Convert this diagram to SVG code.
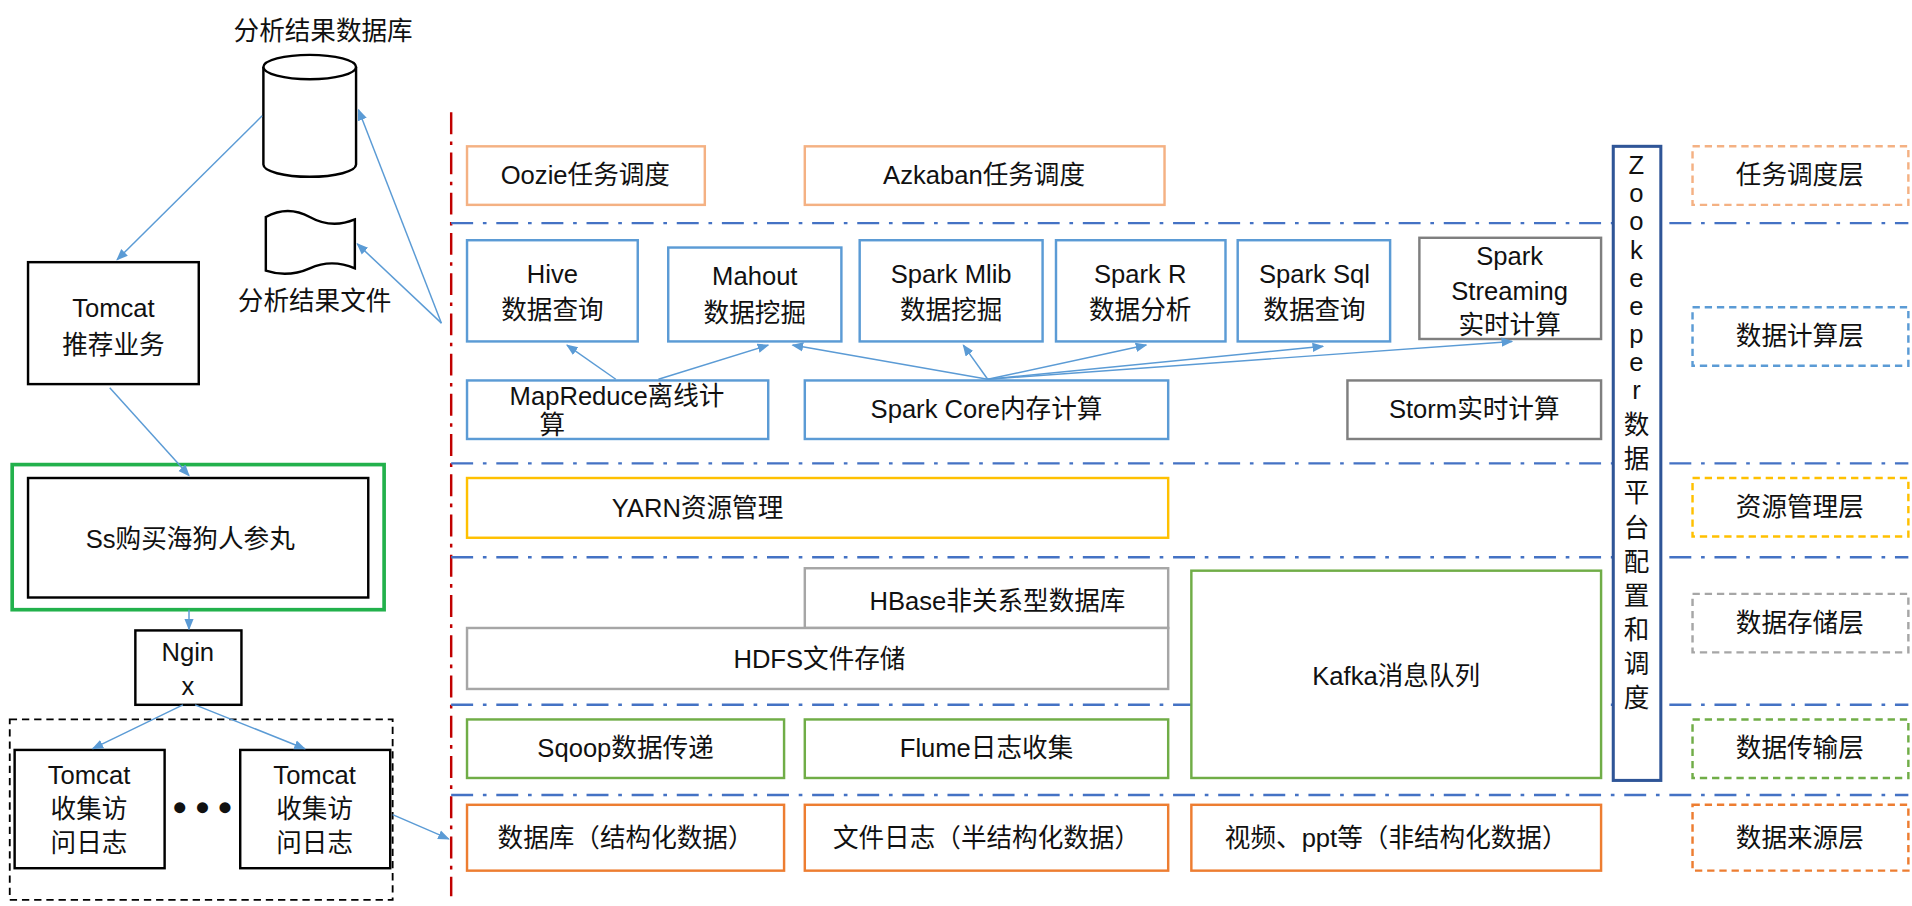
<svg xmlns="http://www.w3.org/2000/svg" width="1912" height="906" viewBox="0 0 1912 906">
<style>
text{font-family:"Liberation Sans","Noto Sans CJK SC",sans-serif;font-size:21px;fill:#111;text-anchor:middle}
.b{fill:#fff;stroke-width:2}
.blk{stroke:#000}.blu{stroke:#5b9bd5}.gry{stroke:#7f7f7f}.lgry{stroke:#a6a6a6}.org{stroke:#ed7d31}.lorg{stroke:#f4b183}.yel{stroke:#ffc000}.grn{stroke:#70ad47}
.d{fill:none;stroke-width:2;stroke-dasharray:6 4}
.sep{stroke:#4472c4;stroke-width:2;stroke-dasharray:18 8 3 8}
.c{stroke:#5b9bd5;stroke-width:1.2;fill:none;marker-end:url(#a)}
</style>
<defs><marker id="a" viewBox="0 0 10 10" refX="9" refY="5" markerWidth="8" markerHeight="8" orient="auto"><path d="M0,1L10,5L0,9z" fill="#5b9bd5"/></marker></defs>
<rect width="1912" height="906" fill="#fff"/>
<g transform="scale(1.2194)">
<g id="seps">
<line x1="370" y1="92" x2="370" y2="735" stroke="#c00000" stroke-width="2" stroke-dasharray="18 6 3 6"/>
<line class="sep" x1="370" y1="183" x2="1565" y2="183"/>
<line class="sep" x1="370" y1="380" x2="1565" y2="380"/>
<line class="sep" x1="370" y1="457" x2="1565" y2="457"/>
<line class="sep" x1="370" y1="578" x2="1565" y2="578"/>
<line class="sep" x1="370" y1="652" x2="1565" y2="652"/>
</g>
<g id="db"><text x="265" y="33">分析结果数据库</text>
<path d="M216,55V135A38,10 0 0 0 292,135V55" class="b blk" stroke-width="1.5"/><ellipse cx="254" cy="55" rx="38" ry="10" class="b blk" stroke-width="1.5"/></g>
<g id="file"><path d="M218,178Q236,168 254,178T291,180V220Q272,212 254,220T218,222Z" class="b blk" stroke-width="1.5"/><text x="258" y="254">分析结果文件</text></g>
<g id="tomcatR"><rect x="23" y="215" width="140" height="100" class="b blk" stroke-width="1.5"/><text x="93" y="260">Tomcat</text><text x="93" y="290">推荐业务</text></g>
<g id="ss"><rect x="10" y="381" width="305" height="119" fill="#fff" stroke="#22b14c" stroke-width="3"/><rect x="23" y="392" width="279" height="98" class="b blk" stroke-width="1.5"/><text x="156" y="449">Ss购买海狗人参丸</text></g>
<g id="nginx"><rect x="111" y="517" width="87" height="61" class="b blk" stroke-width="1.5"/><text x="154" y="542">Ngin</text><text x="154" y="570">x</text></g>
<g id="cluster"><rect x="8" y="590" width="314" height="148" fill="none" stroke="#000" stroke-width="1.5" stroke-dasharray="6 4"/>
<rect x="12" y="615" width="123" height="97" class="b blk" stroke-width="1.5"/><text x="73" y="643">Tomcat</text><text x="73" y="671">收集访</text><text x="73" y="699">问日志</text>
<text x="166" y="668" font-size="26">● ● ●</text>
<rect x="197" y="615" width="123" height="97" class="b blk" stroke-width="1.5"/><text x="258" y="643">Tomcat</text><text x="258" y="671">收集访</text><text x="258" y="699">问日志</text></g>
<g id="n-oozie"><rect x="383" y="120" width="195" height="48" class="b lorg"/><text x="480" y="151">Oozie任务调度</text></g>
<g id="n-azk"><rect x="660" y="120" width="295" height="48" class="b lorg"/><text x="807" y="151">Azkaban任务调度</text></g>
<g id="n-hive"><rect x="383" y="197" width="140" height="83" class="b blu"/><text x="453" y="232">Hive</text><text x="453" y="262">数据查询</text></g>
<g id="n-mahout"><rect x="548" y="203" width="142" height="77" class="b blu"/><text x="619" y="234">Mahout</text><text x="619" y="264">数据挖掘</text></g>
<g id="n-mlib"><rect x="705" y="197" width="150" height="83" class="b blu"/><text x="780" y="232">Spark Mlib</text><text x="780" y="262">数据挖掘</text></g>
<g id="n-r"><rect x="866" y="197" width="139" height="83" class="b blu"/><text x="935" y="232">Spark R</text><text x="935" y="262">数据分析</text></g>
<g id="n-sql"><rect x="1015" y="197" width="125" height="83" class="b blu"/><text x="1078" y="232">Spark Sql</text><text x="1078" y="262">数据查询</text></g>
<g id="n-stream"><rect x="1164" y="195" width="149" height="83" class="b gry"/><text x="1238" y="217">Spark</text><text x="1238" y="246">Streaming</text><text x="1238" y="274">实时计算</text></g>
<g id="n-mr"><rect x="383" y="312" width="247" height="48" class="b blu"/><text x="506" y="332">MapReduce离线计</text><text x="453" y="356">算</text></g>
<g id="n-core"><rect x="660" y="312" width="298" height="48" class="b blu"/><text x="809" y="343">Spark Core内存计算</text></g>
<g id="n-storm"><rect x="1105" y="312" width="208" height="48" class="b gry"/><text x="1209" y="343">Storm实时计算</text></g>
<g id="n-yarn"><rect x="383" y="392" width="575" height="49" class="b yel"/><text x="572" y="424">YARN资源管理</text></g>
<g id="n-hbase"><rect x="660" y="466" width="298" height="49" class="b lgry"/><text x="818" y="500">HBase非关系型数据库</text></g>
<g id="n-hdfs"><rect x="383" y="515" width="575" height="50" class="b lgry"/><text x="672" y="548">HDFS文件存储</text></g>
<g id="n-kafka"><rect x="977" y="468" width="336" height="170" class="b grn"/><text x="1145" y="562">Kafka消息队列</text></g>
<g id="n-sqoop"><rect x="383" y="590" width="260" height="48" class="b grn"/><text x="513" y="621">Sqoop数据传递</text></g>
<g id="n-flume"><rect x="660" y="590" width="298" height="48" class="b grn"/><text x="809" y="621">Flume日志收集</text></g>
<g id="n-src1"><rect x="383" y="660" width="260" height="54" class="b org"/><text x="513" y="695">数据库（结构化数据）</text></g>
<g id="n-src2"><rect x="660" y="660" width="298" height="54" class="b org"/><text x="809" y="695">文件日志（半结构化数据）</text></g>
<g id="n-src3"><rect x="977" y="660" width="336" height="54" class="b org"/><text x="1145" y="695">视频、ppt等（非结构化数据）</text></g>
<g id="zk"><rect x="1323" y="120" width="39" height="520" fill="#fff" stroke="#2f5597" stroke-width="2.5"/>
<text x="1342" y="143">Z</text><text x="1342" y="166">o</text><text x="1342" y="189">o</text><text x="1342" y="212">k</text><text x="1342" y="235">e</text><text x="1342" y="258">e</text><text x="1342" y="281">p</text><text x="1342" y="304">e</text><text x="1342" y="327">r</text>
<text x="1342" y="356">数</text><text x="1342" y="384">据</text><text x="1342" y="412">平</text><text x="1342" y="440">台</text><text x="1342" y="468">配</text><text x="1342" y="496">置</text><text x="1342" y="524">和</text><text x="1342" y="552">调</text><text x="1342" y="580">度</text></g>
<g id="layers">
<rect x="1388" y="120" width="177" height="48" class="d lorg"/><text x="1476" y="151">任务调度层</text>
<rect x="1388" y="252" width="177" height="48" class="d blu"/><text x="1476" y="283">数据计算层</text>
<rect x="1388" y="392" width="177" height="48" class="d yel"/><text x="1476" y="423">资源管理层</text>
<rect x="1388" y="487" width="177" height="48" class="d lgry"/><text x="1476" y="518">数据存储层</text>
<rect x="1388" y="590" width="177" height="48" class="d grn"/><text x="1476" y="621">数据传输层</text>
<rect x="1388" y="660" width="177" height="54" class="d org"/><text x="1476" y="695">数据来源层</text>
</g>
<g id="connectors">
<line class="c" x1="215" y1="95" x2="96" y2="213"/>
<line class="c" x1="362" y1="265" x2="294" y2="90"/>
<line class="c" x1="362" y1="265" x2="293" y2="200"/>
<line class="c" x1="90" y1="318" x2="155" y2="390"/>
<line class="c" x1="155" y1="500" x2="155" y2="516"/>
<line class="c" x1="150" y1="578" x2="76" y2="614"/>
<line class="c" x1="160" y1="578" x2="250" y2="614"/>
<line class="c" x1="322" y1="668" x2="368" y2="688"/>
<line class="c" x1="505" y1="311" x2="465" y2="283"/>
<line class="c" x1="540" y1="311" x2="630" y2="283"/>
<line class="c" x1="810" y1="311" x2="650" y2="283"/>
<line class="c" x1="810" y1="311" x2="790" y2="283"/>
<line class="c" x1="810" y1="311" x2="940" y2="283"/>
<line class="c" x1="810" y1="311" x2="1085" y2="284"/>
<line class="c" x1="810" y1="311" x2="1240" y2="280"/>
</g>
</g>
</svg>
